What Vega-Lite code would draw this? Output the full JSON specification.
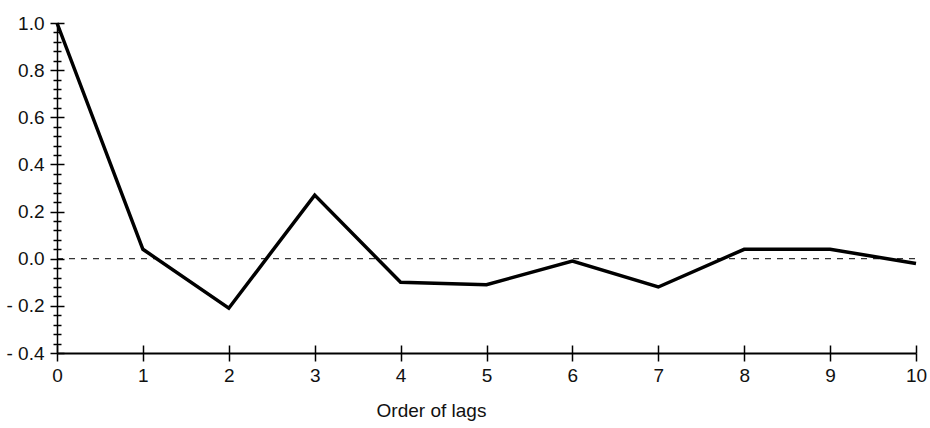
{
  "$schema": "https://vega.github.io/schema/vega-lite/v6.json",
  "width": 859,
  "height": 330,
  "autosize": "none",
  "padding": {"left": 57, "top": 23, "right": 14, "bottom": 75},
  "background": "white",
  "config": {
    "view": {"stroke": null},
    "axis": {
      "grid": false,
      "domainColor": "black",
      "tickColor": "black",
      "labelColor": "#111111",
      "labelFont": "Liberation Sans, Arial, sans-serif",
      "labelFontSize": 19,
      "labelFlush": false,
      "labelOverlap": false,
      "titleFont": "Liberation Sans, Arial, sans-serif",
      "titleFontSize": 19,
      "titleFontWeight": "normal",
      "titleColor": "#111111"
    }
  },
  "layer": [
    {
      "data": {"values": [{"k": 1}]},
      "mark": {"type": "rule", "strokeDash": [6, 6], "strokeWidth": 1, "color": "black"},
      "encoding": {
        "y": {
          "datum": 0, "type": "quantitative",
          "scale": {"domain": [-0.4, 1.0], "nice": false, "zero": false},
          "axis": {"orient": "left", "values": [-0.4, -0.2, 0, 0.2, 0.4, 0.6, 0.8, 1.0], "labelExpr": "datum.value < 0 ? '- ' + format(-datum.value, '.1f') : format(datum.value, '.1f')", "tickSize": 7, "tickWidth": 1.5, "labelPadding": 6, "domainWidth": 1.5, "title": null}
        },
        "x": {
          "datum": 0, "type": "quantitative",
          "scale": {"domain": [0, 10], "nice": false},
          "axis": {"orient": "bottom", "values": [0, 1, 2, 3, 4, 5, 6, 7, 8, 9, 10], "format": "d", "tickSize": 8, "tickWidth": 1.5, "labelPadding": 5, "domainWidth": 2, "title": "Order of lags", "titleX": 374, "titleY": 63, "titleBaseline": "alphabetic", "titleAlign": "center"}
        },
        "x2": {"datum": 10}
      }
    },
    {
      "data": {"values": [
        {"lag": 0, "acf": 1.0},
        {"lag": 1, "acf": 0.04},
        {"lag": 2, "acf": -0.21},
        {"lag": 3, "acf": 0.27},
        {"lag": 4, "acf": -0.10},
        {"lag": 5, "acf": -0.11},
        {"lag": 6, "acf": -0.01},
        {"lag": 7, "acf": -0.12},
        {"lag": 8, "acf": 0.04},
        {"lag": 9, "acf": 0.04},
        {"lag": 10, "acf": -0.02}
      ]},
      "mark": {"type": "line", "color": "black", "strokeWidth": 3.5, "strokeJoin": "miter"},
      "encoding": {
        "x": {
          "field": "lag", "type": "quantitative",
          "axis": {"orient": "bottom", "values": [0, 1, 2, 3, 4, 5, 6, 7, 8, 9, 10], "tickSize": -8, "tickWidth": 1.5, "labels": false, "domain": false, "title": null}
        },
        "y": {
          "field": "acf", "type": "quantitative",
          "axis": {"orient": "left", "values": [-0.4, -0.2, 0, 0.2, 0.4, 0.6, 0.8, 1.0], "tickSize": -7, "tickWidth": 1.5, "labels": false, "domain": false, "title": null}
        }
      }
    },
    {
      "data": {"values": [{"k": 1}]},
      "mark": {"type": "rule", "opacity": 0},
      "encoding": {
        "y": {
          "datum": 0, "type": "quantitative",
          "axis": {"orient": "left", "values": [-0.36, -0.32, -0.28, -0.24, -0.16, -0.12, -0.08, -0.04, 0.04, 0.08, 0.12, 0.16, 0.24, 0.28, 0.32, 0.36, 0.44, 0.48, 0.52, 0.56, 0.64, 0.68, 0.72, 0.76, 0.84, 0.88, 0.92, 0.96], "tickSize": 4, "tickWidth": 1.5, "labels": false, "domain": false, "title": null}
        }
      }
    },
    {
      "data": {"values": [{"k": 1}]},
      "mark": {"type": "rule", "opacity": 0},
      "encoding": {
        "y": {
          "datum": 0, "type": "quantitative",
          "axis": {"orient": "left", "values": [-0.36, -0.32, -0.28, -0.24, -0.16, -0.12, -0.08, -0.04, 0.04, 0.08, 0.12, 0.16, 0.24, 0.28, 0.32, 0.36, 0.44, 0.48, 0.52, 0.56, 0.64, 0.68, 0.72, 0.76, 0.84, 0.88, 0.92, 0.96], "tickSize": -4, "tickWidth": 1.5, "labels": false, "domain": false, "title": null}
        }
      }
    }
  ],
  "resolve": {"axis": {"x": "independent", "y": "independent"}}
}
